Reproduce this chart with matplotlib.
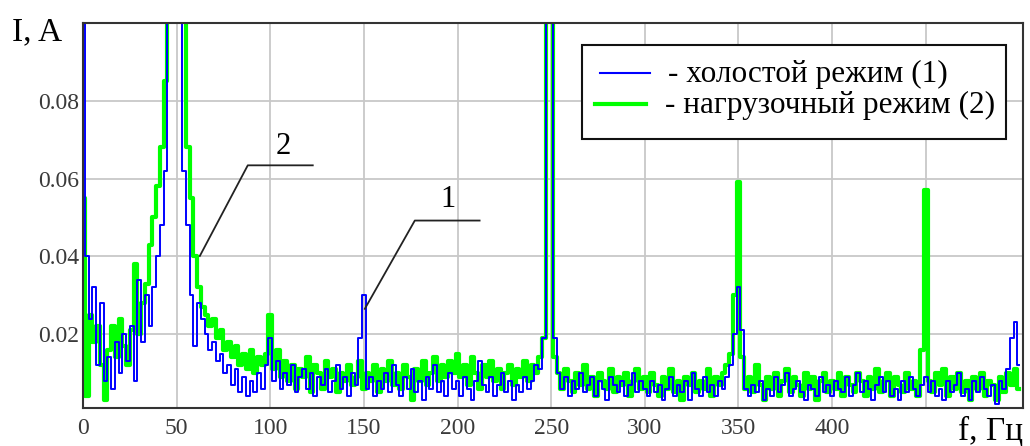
import numpy as np
import matplotlib
matplotlib.use("Agg")
import matplotlib.pyplot as plt
from matplotlib.lines import Line2D
from matplotlib.patches import Rectangle

plt.rcParams["font.family"] = ["Liberation Serif", "DejaVu Serif"]

# spectrum, 2 Hz step, values in mA
freq_hz = np.arange(0, 501, 2)

idle_ma = [
    150, 40, 24, 32, 12, 28, 8, 14, 6, 18, 10, 20, 13, 22, 8, 34, 18, 30, 22, 32,
    40, 48, 62, 130, 160, 170, 140, 62, 48, 30, 17, 28, 24, 20, 16, 18, 13, 15, 10, 12,
    7, 11, 5, 9, 4, 8, 5, 10, 6, 12, 19, 8, 13, 6, 10, 7, 12, 5, 9, 11,
    6, 10, 4, 9, 7, 11, 5, 8, 12, 6, 9, 4, 10, 7, 19, 30, 6, 9, 4, 8,
    6, 10, 5, 12, 7, 4, 9, 6, 11, 5, 8, 3, 9, 6, 12, 5, 8, 4, 10, 6,
    8, 4, 9, 6, 3, 8, 13, 7, 5, 9, 4, 7, 10, 5, 8, 3, 7, 5, 9, 6,
    8, 12, 11, 19, 150, 160, 19, 10, 6, 9, 4, 8, 6, 10, 5, 7, 9, 4, 8, 6,
    3, 9, 7, 5, 8, 4, 7, 10, 5, 8, 6, 4, 8, 5, 7, 3, 6, 9, 4, 7,
    5, 8, 3, 10, 6, 4, 9, 5, 7, 4, 8, 6, 9, 12, 20, 32, 21, 6, 4, 7,
    5, 8, 3, 6, 4, 9, 5, 7, 10, 4, 6, 8, 5, 3, 7, 6, 4, 9, 5, 7,
    4, 8, 6, 5, 9, 4, 7, 10, 5, 8, 6, 3, 7, 9, 5, 8, 4, 6, 3, 8,
    5, 9, 6, 4, 7, 9, 5, 8, 4, 6, 3, 8, 5, 7, 10, 4, 6, 3, 8, 5,
    9, 6, 4, 7, 2, 8, 6, 11, 19, 23, 12,
]

load_ma = [
    55, 4, 25, 18, 22, 12, 3, 16, 22, 14, 24, 17, 12, 21, 38, 20, 28, 33, 43, 50,
    58, 68, 85, 150, 170, 180, 170, 140, 68, 55, 40, 32, 27, 25, 22, 24, 19, 21, 16, 18,
    14, 17, 12, 15, 11, 16, 10, 14, 12, 15, 25, 11, 16, 9, 13, 8, 12, 6, 11, 9,
    14, 5, 12, 10, 6, 13, 9, 11, 5, 10, 8, 12, 7, 9, 13, 6, 10, 8, 12, 5,
    11, 8, 13, 7, 10, 6, 12, 9, 3, 11, 8, 13, 7, 10, 14, 8, 12, 9, 13, 10,
    15, 9, 12, 7, 14, 10, 6, 12, 9, 13, 8, 11, 6, 10, 12, 7, 11, 9, 13, 8,
    12, 10, 14, 19, 150, 160, 14, 10, 6, 11, 8, 5, 10, 7, 12, 6, 9, 4, 10, 8,
    6, 11, 5, 9, 7, 10, 4, 8, 11, 6, 9, 5, 10, 7, 4, 9, 6, 11, 5, 8,
    3, 9, 7, 10, 5, 8, 6, 11, 4, 9, 7, 10, 12, 15, 30, 59, 14, 6, 9, 5,
    12, 7, 3, 9, 6, 10, 4, 8, 11, 5, 9, 7, 4, 10, 6, 9, 3, 8, 10, 5,
    8, 6, 10, 4, 9, 7, 5, 10, 8, 4, 9, 6, 11, 5, 8, 10, 4, 9, 7, 5,
    10, 6, 8, 4, 16, 57, 8, 5, 10, 7, 11, 4, 9, 6, 10, 5, 8, 3, 9, 6,
    10, 4, 8, 7, 3, 9, 5, 10, 7, 11, 6,
]

x_ticks = [0, 50, 100, 150, 200, 250, 300, 350, 400, 450]
x_tick_labels = ["0", "50", "100", "150", "200", "250", "300", "350", "400", ""]
y_ticks = [0.02, 0.04, 0.06, 0.08]
y_tick_labels = ["0.02", "0.04", "0.06", "0.08"]

labels = ["- холостой режим (1)", "- нагрузочный режим (2)"]

idle_a = np.array(idle_ma) / 1000.0
load_a = np.array(load_ma) / 1000.0

W, H = 1030, 446


def px(x, y):
    # pixel position -> figure fraction
    return x / W, 1 - y / H


fig = plt.figure(figsize=(W / 100, H / 100), dpi=100)
ax = fig.add_axes([83 / W, 1 - 408 / H, 940 / W, 385 / H])

ax.plot(freq_hz, load_a, color="#00ff00", lw=3.0, drawstyle="steps-mid", zorder=3)
ax.plot(freq_hz, idle_a, color="#0000ff", lw=1.4, drawstyle="steps-mid", zorder=4)

ax.set_xlim(0, 502)
ax.set_ylim(0.001, 0.1)
ax.set_xticks(x_ticks)
ax.set_xticklabels(x_tick_labels)
ax.set_yticks(y_ticks)
ax.set_yticklabels(y_tick_labels)
ax.tick_params(length=0, labelsize=17, labelcolor="#3a3a3a")
ax.tick_params(axis="x", pad=7)
ax.tick_params(axis="y", pad=3)
ax.grid(True, color="#c8c8c8", lw=1.3)
ax.set_axisbelow(True)
for side in ["left", "bottom", "top", "right"]:
    ax.spines[side].set_color("#333333")
    ax.spines[side].set_linewidth(1.5)
    ax.spines[side].set_zorder(5)

# leader lines for curve numbers
ax.plot([122.7, 88.0, 62.4], [0.0634, 0.0634, 0.0401], color="#222222", lw=1.3, zorder=6)
ax.text(106.7, 0.0683, "2", fontsize=22, ha="center", va="center", zorder=6)
ax.plot([211.8, 177.2, 150.5], [0.0492, 0.0492, 0.0265], color="#222222", lw=1.3, zorder=6)
ax.text(194.8, 0.0545, "1", fontsize=22, ha="center", va="center", zorder=6)

# legend box drawn by hand to get the tight Mathcad look
x0, y0 = px(582, 139)
x1, y1 = px(1006, 45)
fig.add_artist(Rectangle((x0, y0), x1 - x0, y1 - y0, transform=fig.transFigure,
                         facecolor="white", edgecolor="#111111", lw=1.5, zorder=10))
for (hx0, hx1, hy, tx, color, lw), text in zip(
        [(600, 650, 73, 668, "#0000ff", 1.5), (595, 646, 104, 665, "#00ff00", 3.0)], labels):
    a, b = px(hx0, hy)
    c, _ = px(hx1, hy)
    fig.add_artist(Line2D([a, c], [b, b], transform=fig.transFigure, color=color,
                          lw=lw, zorder=11))
    tx_f, ty_f = px(tx, hy + 1)
    fig.text(tx_f, ty_f, text, fontsize=22.5, ha="left", va="center", zorder=11)

fig.text(*px(12, 32), "I, A", fontsize=24, ha="left", va="center")
fig.text(*px(958, 431), "f, Гц", fontsize=24, ha="left", va="center")

fig.savefig("out.png", dpi=100)
